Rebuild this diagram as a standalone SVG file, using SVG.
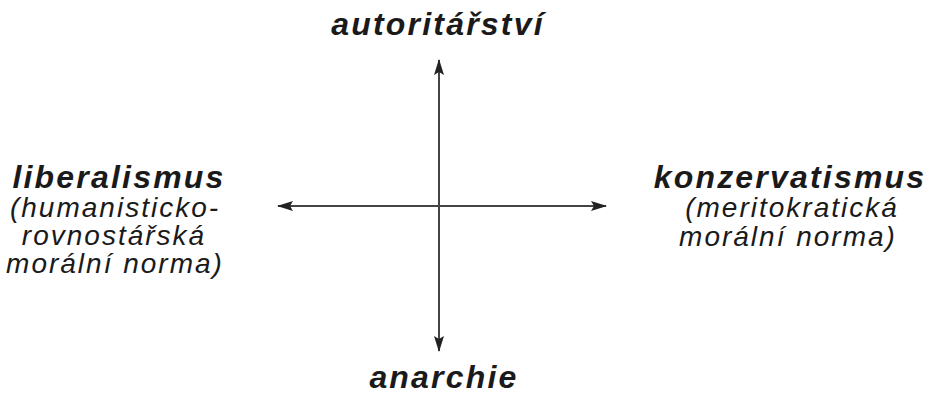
<svg xmlns="http://www.w3.org/2000/svg" width="929" height="398" viewBox="0 0 929 398">
<style>
.t{font-family:"Liberation Sans",Arial,sans-serif;font-style:italic;fill:#1a1a1a;text-anchor:middle}
.h{font-weight:bold;font-size:32px;letter-spacing:2.2px}
.s{font-size:28px;letter-spacing:2px}
.ax{stroke:#444;stroke-width:2;fill:none}
</style>
<defs>
<marker id="ar" viewBox="0 0 16 10" refX="15" refY="5" markerWidth="16" markerHeight="10" markerUnits="userSpaceOnUse" orient="auto">
<path d="M0,0 L16,5 L0,10 L3,5 Z" fill="#222"/>
</marker>
</defs>
<g id="connectors">
<line class="ax" x1="439" y1="205" x2="439" y2="60" marker-end="url(#ar)"/>
<line class="ax" x1="439" y1="205" x2="439" y2="351" marker-end="url(#ar)"/>
<line class="ax" x1="439" y1="206" x2="278" y2="206" marker-end="url(#ar)"/>
<line class="ax" x1="439" y1="206" x2="606" y2="206" marker-end="url(#ar)"/>
</g>
<g id="top"><text class="t h" x="438" y="35">autoritářství</text></g>
<g id="bottom"><text class="t h" x="444" y="388">anarchie</text></g>
<g id="left">
<text class="t h" x="119" y="188">liberalismus</text>
<text class="t s" x="115" y="217">(humanisticko-</text>
<text class="t s" x="114" y="245">rovnostářská</text>
<text class="t s" x="115" y="273">morální norma)</text>
</g>
<g id="right">
<text class="t h" x="790" y="188">konzervatismus</text>
<text class="t s" x="792" y="217">(meritokratická</text>
<text class="t s" x="788" y="246">morální norma)</text>
</g>
</svg>
